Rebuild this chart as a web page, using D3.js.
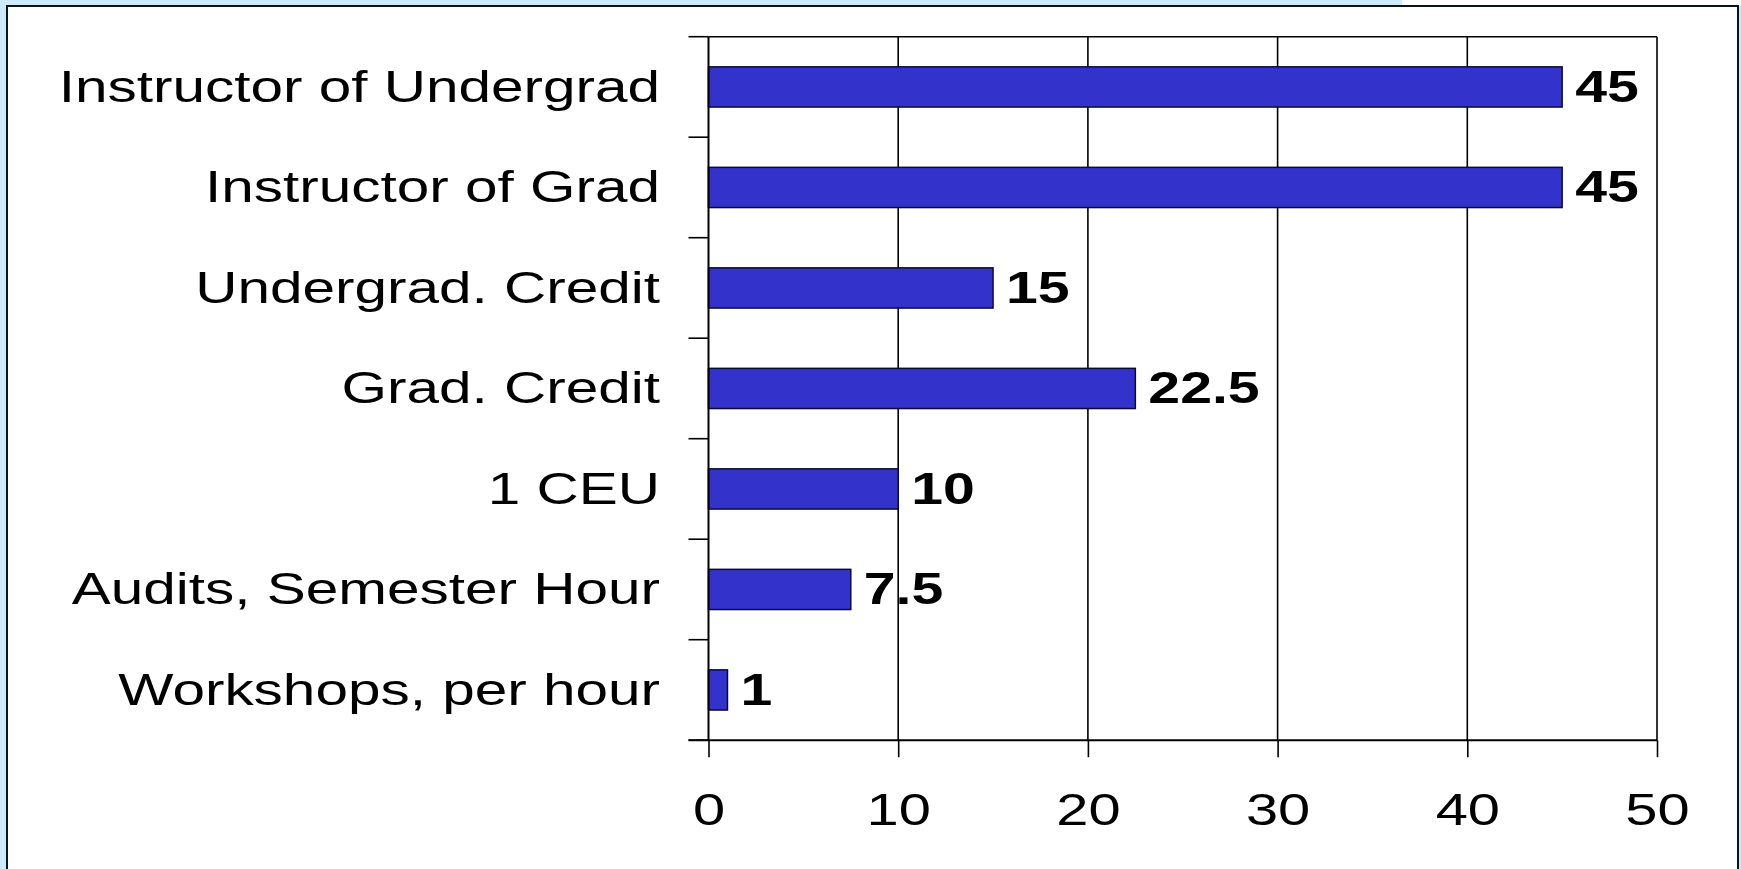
<!DOCTYPE html>
<html>
<head>
<meta charset="utf-8">
<script src="https://cdn.jsdelivr.net/npm/d3@7"></script>
<style>
  html, body { margin: 0; padding: 0; background: #cdeafc; }
  svg { display: block; }
  text { font-family: "Liberation Sans", Arial, Helvetica, sans-serif; fill: #000; }
</style>
</head>
<body>
<svg id="chart" width="1741" height="869"></svg>
<script>
// ---- data ----
const categories = [
  "Instructor of Undergrad",
  "Instructor of Grad",
  "Undergrad. Credit",
  "Grad. Credit",
  "1 CEU",
  "Audits, Semester Hour",
  "Workshops, per hour"
];
const values = [45, 45, 15, 22.5, 10, 7.5, 1];
const xTicks = [0, 10, 20, 30, 40, 50];

// ---- layout ----
const W = 1741, H = 869;
const plot = { left: 708.5, right: 1657, top: 36.7, bottom: 740.2 };
const stretch = 1.3;

const svg = d3.select("#chart");

// background pieces
svg.append("rect").attr("x", 0).attr("y", 0).attr("width", W).attr("height", H).attr("fill", "#cdeafc");
svg.append("rect").attr("x", 1402).attr("y", 0).attr("width", W - 1402).attr("height", 6).attr("fill", "#ffffff");
svg.append("rect").attr("x", 7).attr("y", 6).attr("width", 1731).attr("height", H + 10)
  .attr("fill", "#ffffff").attr("stroke", "#0b1418").attr("stroke-width", 2);

const x = d3.scaleLinear().domain([0, 50]).range([plot.left, plot.right]);
const y = d3.scaleBand().domain(categories).range([plot.top, plot.bottom])
  .paddingInner(0.6).paddingOuter(0.3);

const g = svg.append("g");

// vertical gridlines (excluding 0)
g.selectAll("line.grid").data(xTicks.filter(t => t > 0)).join("line")
  .attr("class", "grid")
  .attr("x1", d => x(d)).attr("x2", d => x(d))
  .attr("y1", plot.top).attr("y2", plot.bottom)
  .attr("stroke", "#000").attr("stroke-width", 1.6);

// top border of plot
g.append("line").attr("x1", plot.left).attr("x2", plot.right)
  .attr("y1", plot.top).attr("y2", plot.top)
  .attr("stroke", "#000").attr("stroke-width", 1.6);

// bars
g.selectAll("rect.bar").data(categories).join("rect")
  .attr("class", "bar")
  .attr("x", x(0))
  .attr("y", d => y(d))
  .attr("width", (d, i) => x(values[i]) - x(0))
  .attr("height", y.bandwidth())
  .attr("fill", "#3333cc")
  .attr("stroke", "#0a0a3a").attr("stroke-width", 1.5);

// y axis line
g.append("line").attr("x1", plot.left).attr("x2", plot.left)
  .attr("y1", plot.top).attr("y2", plot.bottom)
  .attr("stroke", "#000").attr("stroke-width", 2);

// y ticks at band boundaries
const bounds = d3.range(categories.length + 1).map(i => plot.top + i * (plot.bottom - plot.top) / categories.length);
g.selectAll("line.ytick").data(bounds).join("line")
  .attr("class", "ytick")
  .attr("x1", plot.left - 20).attr("x2", plot.left)
  .attr("y1", d => d).attr("y2", d => d)
  .attr("stroke", "#000").attr("stroke-width", 1.6);

// x axis line
g.append("line").attr("x1", plot.left - 20).attr("x2", plot.right)
  .attr("y1", plot.bottom).attr("y2", plot.bottom)
  .attr("stroke", "#000").attr("stroke-width", 2);

// x axis ticks + labels via d3 axis
const xAxis = d3.axisBottom(x).tickValues(xTicks).tickSizeInner(17).tickSizeOuter(0).tickFormat(d3.format("d"));
const ax = g.append("g").attr("transform", `translate(0,${plot.bottom})`).call(xAxis);
ax.select(".domain").remove();
ax.selectAll(".tick line").attr("stroke", "#000").attr("stroke-width", 1.6);
ax.selectAll(".tick text")
  .attr("y", null).attr("dy", null)
  .attr("transform", `translate(0,85) scale(${stretch},1)`)
  .attr("text-anchor", "middle")
  .style("font-family", '"Liberation Sans", Arial, sans-serif')
  .style("font-size", "44.5px")
  .attr("fill", "#000");

// category labels
g.selectAll("text.cat").data(categories).join("text")
  .attr("class", "cat")
  .attr("transform", d => `translate(660,${y(d) + y.bandwidth() / 2 + 15}) scale(${stretch},1)`)
  .attr("text-anchor", "end")
  .style("font-size", "45px")
  .text(d => d);

// value labels
g.selectAll("text.val").data(categories).join("text")
  .attr("class", "val")
  .attr("transform", (d, i) => `translate(${x(values[i]) + 13},${y(d) + y.bandwidth() / 2 + 15}) scale(${stretch},1)`)
  .attr("text-anchor", "start")
  .style("font-size", "44px")
  .style("font-weight", "bold")
  .text((d, i) => values[i]);
</script>
</body>
</html>
